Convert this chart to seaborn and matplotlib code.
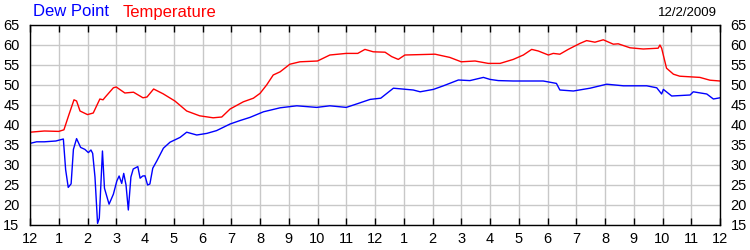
import matplotlib
matplotlib.use("Agg")
import matplotlib.pyplot as plt
import seaborn as sns
import pandas as pd

# ---- data ----
temp_hours = [0, 0.5, 1.0, 1.18, 1.35, 1.53, 1.62, 1.74, 2.0, 2.2,
              2.43, 2.54, 2.62, 2.9, 3.0, 3.3, 3.6, 3.93, 4.07, 4.3,
              4.63, 5.04, 5.45, 5.9, 6.37, 6.67, 6.96, 7.42, 7.77, 8.0,
              8.23, 8.46, 8.7, 9.04, 9.39, 10.0, 10.43, 11.0, 11.4, 11.65,
              11.94, 12.35, 12.58, 12.81, 13.04, 14.09, 14.6, 15.0, 15.48, 15.94,
              16.35, 16.81, 17.16, 17.45, 17.68, 18.03, 18.2, 18.43, 18.72, 19.13,
              19.36, 19.65, 19.94, 20.29, 20.46, 20.87, 21.33, 21.85, 21.91, 21.97,
              22.14, 22.38, 22.6, 23.3, 23.65, 24.0]
temp_vals = [38.2, 38.5, 38.4, 38.8, 42.5, 46.3, 46.0, 43.5, 42.6, 43.0,
             46.5, 46.3, 47.0, 49.3, 49.5, 48.0, 48.2, 46.8, 47.0, 49.0,
             47.8, 46.0, 43.5, 42.3, 41.8, 42.0, 44.0, 45.8, 46.7, 47.9,
             50.0, 52.5, 53.3, 55.2, 55.8, 56.0, 57.5, 57.9, 57.9, 58.9,
             58.3, 58.2, 57.1, 56.4, 57.5, 57.7, 56.9, 55.8, 56.0, 55.4,
             55.4, 56.4, 57.5, 58.9, 58.5, 57.5, 57.9, 57.7, 58.9, 60.4,
             61.1, 60.7, 61.3, 60.2, 60.3, 59.3, 59.0, 59.2, 60.0, 59.2,
             54.2, 52.7, 52.2, 51.9, 51.2, 51.0]

dew_hours = [0, 0.23, 0.5, 0.9, 1.16, 1.24, 1.33, 1.43, 1.51, 1.62,
             1.76, 1.91, 2.03, 2.12, 2.18, 2.26, 2.35, 2.41, 2.52, 2.59,
             2.75, 2.9, 3.02, 3.1, 3.19, 3.26, 3.34, 3.42, 3.51, 3.59,
             3.75, 3.83, 3.92, 4.0, 4.09, 4.17, 4.27, 4.41, 4.64, 4.87,
             5.22, 5.45, 5.8, 6.15, 6.49, 6.96, 7.3, 7.65, 8.12, 8.7,
             9.28, 9.97, 10.43, 11.0, 11.42, 11.83, 12.2, 12.64, 13.33, 13.57,
             14.03, 14.38, 14.9, 15.3, 15.77, 16.0, 16.29, 16.81, 17.85, 18.31,
             18.43, 18.9, 19.48, 20.06, 20.64, 21.45, 21.8, 21.97, 22.03, 22.32,
             22.96, 23.07, 23.54, 23.77, 24.0]
dew_vals = [35.4, 35.8, 35.8, 36.0, 36.5, 28.8, 24.4, 25.3, 33.9, 36.6,
            34.4, 33.9, 33.1, 33.75, 32.9, 27.0, 15.4, 16.7, 33.5, 24.2,
            20.2, 22.7, 26.0, 27.25, 25.4, 27.9, 25.0, 18.75, 27.0, 29.0,
            29.6, 26.7, 27.25, 27.3, 25.0, 25.25, 29.2, 31.0, 34.2, 35.7,
            36.9, 38.2, 37.5, 37.9, 38.6, 40.25, 41.1, 41.9, 43.3, 44.3,
            44.8, 44.4, 44.8, 44.4, 45.4, 46.4, 46.7, 49.2, 48.75, 48.3,
            48.9, 49.8, 51.25, 51.1, 51.9, 51.4, 51.1, 51.0, 51.0, 50.4,
            48.75, 48.5, 49.2, 50.2, 49.8, 49.8, 49.3, 47.75, 48.9, 47.25,
            47.5, 48.3, 47.75, 46.5, 46.8]

x_ticks = list(range(0, 25))
x_labels = ["12"] + [str(i) for i in range(1, 12)] + ["12"] + [str(i) for i in range(1, 12)] + ["12"]
y_ticks = list(range(15, 70, 5))
date_label = "12/2/2009"
series_names = ["Dew Point", "Temperature"]

# ---- plot ----
sns.set_style("white")
plt.rcParams["font.family"] = ["Liberation Sans", "DejaVu Sans"]

fig = plt.figure(figsize=(7.5, 2.5), dpi=100)
ax = fig.add_axes([30 / 750, 25 / 250, 690 / 750, 200 / 250])

temp_df = pd.DataFrame({"hour": temp_hours, "value": temp_vals})
dew_df = pd.DataFrame({"hour": dew_hours, "value": dew_vals})

sns.lineplot(data=temp_df, x="hour", y="value", ax=ax, color="#ff0000",
             linewidth=1.0, sort=False, estimator=None)
sns.lineplot(data=dew_df, x="hour", y="value", ax=ax, color="#0000ff",
             linewidth=1.0, sort=False, estimator=None)

ax.set_xlim(0, 24)
ax.set_ylim(15, 65)
ax.set_xticks(x_ticks)
ax.set_xticklabels(x_labels)
ax.set_yticks(y_ticks)
ax.set_xlabel("")
ax.set_ylabel("")

ax.grid(True, color="#c8c8c8", linewidth=1.0)
ax.set_axisbelow(True)
for s in ax.spines.values():
    s.set_visible(True)
    s.set_color("black")
    s.set_linewidth(1.0)

ax.tick_params(axis="x", direction="in", top=True, bottom=True, length=5,
               width=1, labelsize=10.5, pad=5, colors="black")
ax.tick_params(axis="y", left=False, right=False, labelleft=True, labelright=True,
               labelsize=10.5, pad=4, colors="black")

fig.text(33 / 750, 1 - 12 / 250, series_names[0], color="#0000ff", fontsize=12,
         va="center", ha="left")
fig.text(123 / 750, 1 - 12 / 250, series_names[1], color="#ff0000", fontsize=12,
         va="center", ha="left")
fig.text(717 / 750, 1 - 13 / 250, date_label, color="black", fontsize=9.5,
         va="center", ha="right")

fig.savefig("out.png", dpi=100)
